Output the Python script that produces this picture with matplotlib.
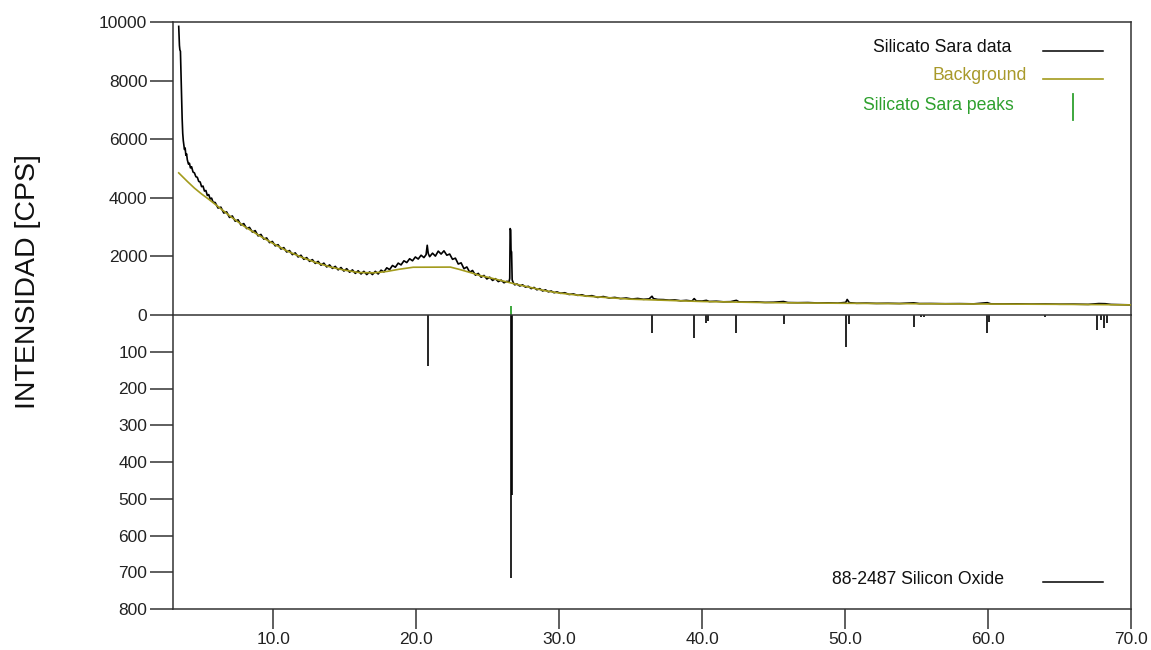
import matplotlib
matplotlib.use("Agg")
import matplotlib.pyplot as plt
import numpy as np

plt.rcParams['font.family'] = ['Liberation Sans', 'DejaVu Sans']

# ---------------- data ----------------
two_theta = [3.40, 3.45, 3.48, 3.52, 3.56, 3.60, 3.64, 3.68, 3.72, 3.76, 3.80, 3.85, 3.90, 3.95,
             4.00, 4.08, 4.15, 4.22, 4.30, 4.40, 4.50, 4.60, 4.70, 4.80, 4.90, 5.00, 5.10, 5.20,
             5.30, 5.40, 5.50, 5.60, 5.70, 5.80, 5.95, 6.15, 6.35, 6.55, 6.75, 6.95, 7.15, 7.35,
             7.55, 7.75, 7.95, 8.15, 8.35, 8.55, 8.75, 8.95, 9.15, 9.35, 9.55, 9.75, 9.95, 10.15,
             10.35, 10.55, 10.75, 10.95, 11.15, 11.35, 11.55, 11.75, 11.95, 12.15, 12.35, 12.55,
             12.75, 12.95, 13.15, 13.35, 13.55, 13.75, 13.95, 14.15, 14.35, 14.55, 14.75, 14.95,
             15.15, 15.35, 15.55, 15.75, 15.95, 16.15, 16.35, 16.55, 16.75, 16.95, 17.15, 17.35,
             17.55, 17.75, 17.95, 18.15, 18.35, 18.55, 18.75, 18.95, 19.15, 19.35, 19.55, 19.75,
             19.95, 20.15, 20.35, 20.55, 20.70, 20.78, 20.85, 20.95, 21.15, 21.35, 21.55, 21.75,
             21.95, 22.15, 22.35, 22.55, 22.75, 22.95, 23.15, 23.35, 23.55, 23.75, 23.95, 24.15,
             24.35, 24.55, 24.75, 24.95, 25.15, 25.35, 25.55, 25.75, 25.95, 26.15, 26.35, 26.50,
             26.55, 26.58, 26.62, 26.64, 26.68, 26.72, 26.80, 26.90, 27.05, 27.25, 27.45, 27.65,
             27.85, 28.05, 28.25, 28.45, 28.65, 28.85, 29.05, 29.25, 29.45, 29.65, 29.85, 30.10,
             30.40, 30.70, 31.00, 31.30, 31.60, 31.90, 32.30, 32.70, 33.10, 33.50, 33.90, 34.30,
             34.70, 35.10, 35.50, 35.90, 36.30, 36.50, 36.60, 36.90, 37.30, 37.70, 38.10, 38.50,
             38.90, 39.30, 39.45, 39.60, 40.00, 40.30, 40.50, 41.00, 41.50, 42.00, 42.40, 42.60,
             43.20, 43.80, 44.40, 45.00, 45.70, 46.00, 46.70, 47.40, 48.10, 48.80, 49.50, 50.05,
             50.15, 50.30, 50.80, 51.50, 52.20, 53.00, 53.80, 54.80, 55.20, 56.00, 57.00, 58.00,
             59.00, 59.95, 60.20, 61.00, 62.00, 63.00, 64.00, 65.00, 66.00, 67.00, 67.75, 68.20,
             68.60, 69.30, 70.00]
intensity = [9850, 9200, 9050, 9000, 8200, 7400, 6700, 6200, 5950, 5800, 5650, 5700, 5450, 5500,
             5300, 5150, 5180, 5020, 5060, 4880, 4850, 4720, 4700, 4560, 4540, 4380, 4400, 4230,
             4250, 4080, 4110, 3960, 3990, 3850, 3840, 3650, 3680, 3480, 3520, 3330, 3380, 3200,
             3250, 3070, 3120, 2950, 2990, 2830, 2880, 2700, 2750, 2590, 2630, 2470, 2510, 2360,
             2400, 2250, 2300, 2150, 2200, 2060, 2120, 1980, 2040, 1900, 1960, 1830,
             1890, 1760, 1830, 1700, 1770, 1640, 1710, 1590, 1660, 1540, 1620, 1500,
             1580, 1460, 1540, 1420, 1510, 1400, 1490, 1380, 1470, 1380, 1490, 1400,
             1530, 1470, 1610, 1550, 1690, 1630, 1770, 1710, 1850, 1790, 1920, 1850,
             1980, 1910, 2040, 1960, 2060, 2380, 2100, 1990, 2110, 2010, 2180, 2080,
             2190, 2040, 2080, 1900, 1940, 1740, 1780, 1580, 1640, 1460, 1520, 1360,
             1420, 1290, 1350, 1230, 1290, 1180, 1240, 1140, 1190, 1100, 1150, 1130,
             1250, 2950, 2900, 2200, 2150, 1200, 1100, 1030, 1060, 990, 1030, 950,
             980, 900, 940, 860, 900, 820, 860, 790, 820, 760, 790, 740,
             760, 700, 720, 670, 690, 640, 660, 600, 630, 580, 600, 560,
             580, 545, 565, 535, 550, 640, 560, 530, 525, 505, 515, 485,
             500, 475, 560, 480, 475, 500, 460, 470, 450, 455, 500, 445,
             440, 445, 430, 435, 460, 425, 420, 425, 410, 415, 405, 430,
             530, 420, 400, 405, 395, 400, 392, 415, 390, 392, 385, 388,
             380, 420, 382, 378, 380, 372, 375, 368, 370, 362, 390, 385,
             360, 352, 345]

bg_theta = [3.4, 4.0, 4.5, 5.0, 5.5, 6.0, 7.0, 8.0, 9.0, 10.0, 11.0, 12.0, 13.0, 14.0, 15.0,
            16.0, 17.0, 17.5, 18.0, 18.8, 19.8, 22.4, 23.0, 24.0, 24.5, 25.0, 26.0, 27.0, 28.0,
            29.0, 30.0, 32.0, 35.0, 40.0, 45.0, 50.0, 55.0, 60.0, 65.0, 70.0]
bg_intensity = [4850, 4560, 4330, 4130, 3950, 3760, 3370, 3020, 2720, 2440, 2180, 1970, 1790,
                1640, 1530, 1450, 1440, 1460, 1490, 1560, 1630, 1635, 1560, 1420, 1340, 1290,
                1170, 1050, 940, 830, 750, 640, 540, 460, 420, 400, 385, 375, 365, 345]

peak_theta = [26.62]
peak_height = [300]

ref_theta = [20.85, 26.62, 26.68, 36.50, 39.45, 40.25, 40.40, 42.40, 45.75, 50.10, 50.25,
             54.85, 55.30, 55.55, 59.90, 60.05, 64.00, 67.65, 67.90, 68.10, 68.30]
ref_intensity = [140, 716, 490, 48, 63, 22, 15, 48, 25, 86, 25,
                 32, 6, 6, 49, 20, 5, 41, 14, 35, 22]

upper_ticks = [0, 2000, 4000, 6000, 8000, 10000]
lower_ticks = [100, 200, 300, 400, 500, 600, 700, 800]
x_ticks = [10, 20, 30, 40, 50, 60, 70]

# ---------------- style ----------------
W, H = 1151, 650
axis_col = '#333333'
olive = '#a39b1c'
olive_txt = '#a8992a'
green = '#2ea02e'
fs = 12.5

fig = plt.figure(figsize=(W / 100, H / 100), dpi=100)
L, R, T, M, B = 173, 1131, 22, 315, 609
ax1 = fig.add_axes([L / W, 1 - M / H, (R - L) / W, (M - T) / H])
ax2 = fig.add_axes([L / W, 1 - B / H, (R - L) / W, (B - M) / H])

for ax in (ax1, ax2):
    ax.set_xlim(3.0, 70.0)
    for s in ax.spines.values():
        s.set_color(axis_col)
        s.set_linewidth(1.1)
    ax.tick_params(axis='y', direction='out', length=16.5, width=1.1, color=axis_col,
                   labelsize=fs, pad=2, labelcolor='#222222')

ax1.plot(two_theta, intensity, color='black', lw=1.2, zorder=3)
ax1.plot(bg_theta, bg_intensity, color=olive, lw=1.2, zorder=4)
ax1.vlines(peak_theta, 0, peak_height, color=green, lw=1.3, zorder=5)
ax1.set_ylim(0, 10000)
ax1.set_yticks(upper_ticks)
ax1.set_yticklabels([str(v) for v in upper_ticks])
ax1.spines['bottom'].set_visible(False)
ax1.tick_params(axis='x', bottom=False, labelbottom=False)

ax2.vlines(ref_theta, 0, ref_intensity, color='black', lw=1.2)
ax2.set_ylim(800, 0)
ax2.set_yticks(lower_ticks)
ax2.set_yticklabels([str(v) for v in lower_ticks])
ax2.set_xticks(x_ticks)
ax2.set_xticklabels([f"{v:.1f}" for v in x_ticks])
ax2.tick_params(axis='x', direction='out', length=14.5, width=1.1, color=axis_col,
                labelsize=fs, pad=2, labelcolor='#222222')

# y label
fig.text(28 / W, 1 - 282 / H, 'INTENSIDAD [CPS]', rotation=90, ha='center', va='center',
         fontsize=20.5, color='#111111')

# legend entries (figure pixel coordinates)
def fx(px):
    return px / W

def fy(py):
    return 1 - py / H

fig.text(fx(873), fy(47), 'Silicato Sara data', ha='left', va='center', fontsize=12.7, color='#111111')
fig.add_artist(plt.Line2D([fx(1043), fx(1103)], [fy(51), fy(51)], color='black', lw=1.1))
fig.text(fx(932), fy(76), 'Background', ha='left', va='center', fontsize=12.7, color=olive_txt)
fig.add_artist(plt.Line2D([fx(1043), fx(1103)], [fy(79), fy(79)], color=olive, lw=1.2))
fig.text(fx(863), fy(105), 'Silicato Sara peaks', ha='left', va='center', fontsize=12.7, color=green)
fig.add_artist(plt.Line2D([fx(1073), fx(1073)], [fy(94), fy(120)], color=green, lw=1.3))
fig.text(fx(832), fy(579), '88-2487 Silicon Oxide', ha='left', va='center', fontsize=12.7, color='#111111')
fig.add_artist(plt.Line2D([fx(1043), fx(1103)], [fy(582), fy(582)], color='black', lw=1.1))

fig.savefig('out.png', dpi=100, facecolor='white')
